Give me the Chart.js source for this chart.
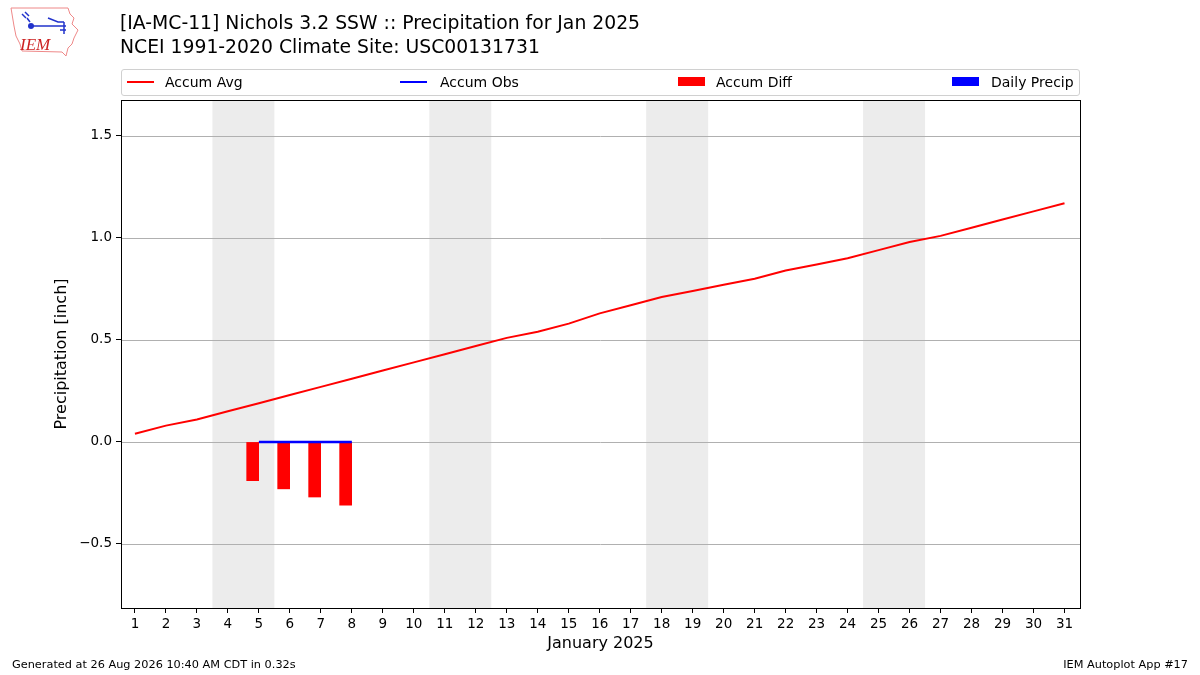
<!DOCTYPE html>
<html>
<head>
<meta charset="utf-8">
<script src="https://cdn.jsdelivr.net/npm/chart.js@4.4.1/dist/chart.umd.min.js"></script>
<style>
  html, body { margin:0; padding:0; background:#fff; }
  #wrap { position:relative; width:1200px; height:675px; font-family:"DejaVu Sans", sans-serif; color:#000; }
  #c { position:absolute; left:0; top:0; }
  .t { position:absolute; white-space:nowrap; }
  #legend { position:absolute; left:121px; top:69px; width:957px; height:25px; border:1px solid #d0d0d0; border-radius:3px; background:#fff; }
  .li { position:absolute; top:0; height:25px; font-size:14px; line-height:24px; white-space:nowrap; width:250px; }
  .li span { white-space:nowrap; }
  .sw { position:absolute; top:11px; height:2px; width:27px; }
  .sq { position:absolute; top:7px; height:9px; width:27px; }
</style>
</head>
<body>
<div id="wrap">
  <canvas id="c" width="1200" height="675"></canvas>
  <svg class="t" style="left:8px;top:6px" width="72" height="52" viewBox="0 0 72 52">
    <path d="M3,2 L60,2 L62,8 L66,12 L64,18 L70,24 L66,32 L64,38 L60,42 L58,50 L54,46 L14,45 L12,38 L8,30 L6,20 Z" fill="#fff" stroke="#e88" stroke-width="1"/>
    <path d="M17,6 L21,10 M14,8 L18,12 M19,12 L22,16" stroke="#2233cc" stroke-width="1.5"/>
    <circle cx="23" cy="20" r="3" fill="#2233cc"/>
    <path d="M23,20 L58,20 M40,12 L50,16 L56,16 M56,16 L56,28 M52,24 L58,24" stroke="#2233cc" stroke-width="1.5" fill="none"/>
    <text x="12" y="44" font-family="Liberation Serif, serif" font-style="italic" font-size="17" fill="#cc2222">IEM</text>
  </svg>
  <div class="t" style="left:120px;top:12px;font-size:18.8px;">[IA-MC-11] Nichols 3.2 SSW :: Precipitation for Jan 2025</div>
  <div class="t" style="left:120px;top:36px;font-size:18.8px;">NCEI 1991-2020 Climate Site: USC00131731</div>
  <div id="legend">
    <div class="li" style="left:0"><span class="sw" style="left:5px;background:#ff0000"></span><span style="position:absolute;left:43px">Accum Avg</span></div>
    <div class="li" style="left:278px"><span class="sw" style="left:0;background:#0000ff"></span><span style="position:absolute;left:40px">Accum Obs</span></div>
    <div class="li" style="left:556px"><span class="sq" style="left:0;background:#ff0000"></span><span style="position:absolute;left:38px">Accum Diff</span></div>
    <div class="li" style="left:830px"><span class="sq" style="left:0;background:#0000ff"></span><span style="position:absolute;left:39px">Daily Precip</span></div>
  </div>
  <div class="t" style="left:12px;top:658px;font-size:11.3px;">Generated at 26 Aug 2026 10:40 AM CDT in 0.32s</div>
  <div class="t" style="right:12px;top:658px;font-size:11.3px;">IEM Autoplot App #17</div>
</div>
<script>
const days = [1,2,3,4,5,6,7,8,9,10,11,12,13,14,15,16,17,18,19,20,21,22,23,24,25,26,27,28,29,30,31];
const accumAvg = [0.04,0.08,0.11,0.15,0.19,0.23,0.27,0.31,0.35,0.39,0.43,0.47,0.51,0.54,0.58,0.63,0.67,0.71,0.74,0.77,0.80,0.84,0.87,0.90,0.94,0.98,1.01,1.05,1.09,1.13,1.17];
const obsDays = [5,6,7,8];
const accumObs = [0.00,0.00,0.00,0.00];
const accumDiff = [-0.19,-0.23,-0.27,-0.31];
const dailyPrecip = [];
const weekendStarts = [4,11,18,25];
const weekendEnds = [5,12,19,26];
const yTicks = [-0.5,0.0,0.5,1.0,1.5];
const xTicks = days;

const shadePlugin = {
  id:'shade',
  beforeDatasetsDraw(chart){
    const {ctx, chartArea:a, scales:{x}} = chart;
    ctx.save();
    ctx.fillStyle = '#ececec';
    weekendStarts.forEach((s,i)=>{
      const x0 = x.getPixelForValue(s-0.5), x1 = x.getPixelForValue(weekendEnds[i]+0.5);
      ctx.fillRect(x0, a.top, x1-x0, a.bottom-a.top);
    });
    const y = chart.scales.y;
    ctx.strokeStyle = '#b0b0b0'; ctx.lineWidth = 1;
    yTicks.forEach(v=>{
      const py = Math.round(y.getPixelForValue(v))+0.5;
      ctx.beginPath(); ctx.moveTo(a.left, py); ctx.lineTo(a.right, py); ctx.stroke();
    });
    ctx.restore();
  },
  afterDraw(chart){
    const {ctx, chartArea:a} = chart;
    ctx.save();
    ctx.strokeStyle = '#000'; ctx.lineWidth = 1;
    ctx.strokeRect(Math.round(a.left)+0.5, Math.round(a.top)+0.5, Math.round(a.right-a.left), Math.round(a.bottom-a.top));
    ctx.restore();
  }
};

new Chart(document.getElementById('c'), {
  type:'bar',
  data:{
    datasets:[
      { type:'line', label:'Accum Avg', data: days.map((d,i)=>({x:d,y:accumAvg[i]})), borderColor:'#ff0000', borderWidth:2, pointRadius:0, tension:0, order:1 },
      { type:'line', label:'Accum Obs', data: obsDays.map((d,i)=>({x:d,y:accumObs[i]})), borderColor:'#0000ff', borderWidth:2.5, pointRadius:0, tension:0, order:0 },
      { type:'bar', label:'Accum Diff', data: obsDays.map((d,i)=>({x:d-0.2,y:accumDiff[i]})), backgroundColor:'#ff0000', barThickness:12, grouped:false, order:2 },
      { type:'bar', label:'Daily Precip', data: dailyPrecip.map((v,i)=>({x:obsDays[i]+0.2,y:v})), backgroundColor:'#0000ff', barThickness:12, grouped:false, order:3 }
    ]
  },
  options:{
    responsive:false, animation:false, devicePixelRatio:1,
    layout:{ padding:{ left:52, right:120, top:100, bottom:22 } },
    plugins:{ legend:{display:false}, tooltip:{enabled:false} },
    scales:{
      x:{
        type:'linear', min:0.55, max:31.5, offset:false,
        afterBuildTicks(s){ s.ticks = xTicks.map(v=>({value:v})); },
        afterFit(s){ s.height = 45; },
        grid:{ drawOnChartArea:false, drawTicks:true, tickLength:5, color:'#000', offset:false },
        border:{ display:true, color:'#000' },
        ticks:{ color:'#000', font:{family:'DejaVu Sans', size:13.5}, padding:3, maxRotation:0, autoSkip:false, callback:v=>String(v) },
        title:{ display:true, text:'January 2025', color:'#000', font:{family:'DejaVu Sans', size:16}, padding:{top:2,bottom:0} }
      },
      y:{
        type:'linear', min:-0.814, max:1.676,
        afterBuildTicks(s){ s.ticks = yTicks.map(v=>({value:v})); },
        afterFit(s){ s.width = 69; },
        grid:{ drawOnChartArea:false, drawTicks:true, tickLength:5, color:'#000' },
        border:{ display:true, color:'#000' },
        ticks:{ color:'#000', font:{family:'DejaVu Sans', size:13.5}, padding:4, callback:v=> (v<0?'\u2212':'') + Math.abs(v).toFixed(1) },
        title:{ display:true, text:'Precipitation [inch]', color:'#000', font:{family:'DejaVu Sans', size:16}, padding:{top:0,bottom:4} }
      }
    }
  },
  plugins:[shadePlugin]
});
</script>
</body>
</html>
